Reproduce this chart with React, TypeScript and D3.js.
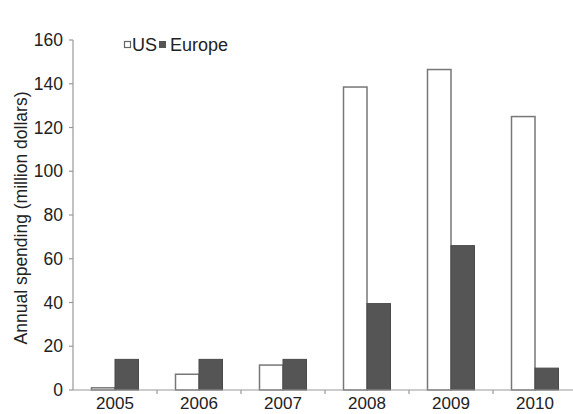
import * as d3 from "d3";

const years = ["2005", "2006", "2007", "2008", "2009", "2010"];
const usValues = [1, 7.2, 11.4, 138.5, 146.5, 125];
const europeValues = [14, 14, 14, 39.5, 66, 10];
const yTicks = [0, 20, 40, 60, 80, 100, 120, 140, 160];

const W = 573;
const H = 414;
const FONT = "'Liberation Sans', Arial, sans-serif";

const App: React.FC = () => {
  const x = d3.scaleBand<string>().domain(years).range([73, 577]).padding(0);
  const y = d3.scaleLinear().domain([0, 160]).range([390, 40]);
  const barW = 23.5;
  const center = (yr: string) => (x(yr) as number) + x.bandwidth() / 2;

  return (
    <svg
      width={W}
      height={H}
      style={{ position: "absolute", left: 0, top: 0, background: "#fff" }}
      fontFamily={FONT}
    >
      {/* y axis */}
      <line x1={73} x2={73} y1={y(160)} y2={y(0)} stroke="#999" strokeWidth={1.2} />
      {yTicks.map((t) => (
        <g key={t}>
          <line x1={69} x2={73} y1={y(t)} y2={y(t)} stroke="#999" strokeWidth={1.2} />
          <text x={63} y={y(t)} dy="0.35em" textAnchor="end" fontSize={17.5} fill="#222">
            {t}
          </text>
        </g>
      ))}
      <text
        transform={`translate(27,${(y(0) + y(160)) / 2 + 3}) rotate(-90)`}
        textAnchor="middle"
        fontSize={17.5}
        fill="#222"
      >
        Annual spending (million dollars)
      </text>

      {/* bars */}
      {years.map((yr, i) => (
        <g key={yr}>
          <rect
            x={center(yr) - barW}
            y={y(usValues[i])}
            width={barW}
            height={y(0) - y(usValues[i])}
            fill="#fff"
            stroke="#777"
            strokeWidth={1.5}
          />
          <rect
            x={center(yr)}
            y={y(europeValues[i])}
            width={barW}
            height={y(0) - y(europeValues[i])}
            fill="#555"
            stroke="#4a4a4a"
            strokeWidth={1}
          />
        </g>
      ))}

      {/* x axis */}
      <line x1={73} x2={577} y1={y(0)} y2={y(0)} stroke="#999" strokeWidth={1.2} />
      {years.map((yr) => (
        <g key={yr}>
          <line
            x1={(x(yr) as number) + x.bandwidth()}
            x2={(x(yr) as number) + x.bandwidth()}
            y1={y(0)}
            y2={y(0) + 4}
            stroke="#999"
            strokeWidth={1.2}
          />
          <text x={center(yr)} y={409} textAnchor="middle" fontSize={17} fill="#222">
            {yr}
          </text>
        </g>
      ))}

      {/* legend */}
      <rect x={124.5} y={41.5} width={6} height={6} fill="#fff" stroke="#666" strokeWidth={1.2} />
      <text x={132} y={51} fontSize={18} fill="#222">US</text>
      <rect x={159} y={41} width={7} height={7} fill="#555" />
      <text x={170} y={51} fontSize={18} fill="#222">Europe</text>
    </svg>
  );
};

export default App;
